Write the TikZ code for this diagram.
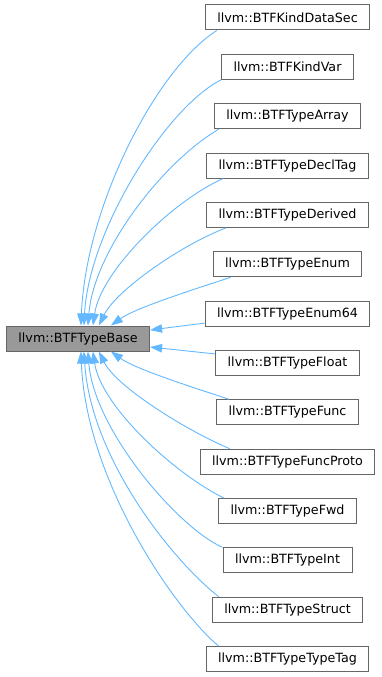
\documentclass[tikz,border=0pt]{standalone}
\usepackage{fontspec}
\setmainfont{DejaVu Sans}
\usetikzlibrary{arrows.meta,calc}

\definecolor{edgeblue}{HTML}{63B8FF}
\definecolor{boxline}{HTML}{666666}
\definecolor{basefill}{HTML}{999999}

\tikzset{
  classbox/.style={draw=boxline, line width=1pt, fill=white, text=black,
    minimum height=25pt, inner xsep=12pt, inner ysep=0pt,
    font=\fontsize{12.7}{15}\selectfont},
  basebox/.style={classbox, fill=basefill},
  inherit/.style={draw=edgeblue, line width=0.9pt,
    -{Triangle[length=12pt,width=8.5pt]}, fill=none},
}

\begin{document}
\begin{tikzpicture}[x=1pt,y=-1pt]
\useasboundingbox (0,0) rectangle (381,677);

% base class
\node[basebox] (base) at (78,338.5) {llvm::BTFTypeBase};

% derived classes
\node[classbox] (c1)  at (287.5, 17.5) {llvm::BTFKindDataSec};
\node[classbox] (c2)  at (287.5, 66.85) {llvm::BTFKindVar};
\node[classbox] (c3)  at (287.5,116.2) {llvm::BTFTypeArray};
\node[classbox] (c4)  at (287.5,165.55) {llvm::BTFTypeDeclTag};
\node[classbox] (c5)  at (287.5,214.9) {llvm::BTFTypeDerived};
\node[classbox] (c6)  at (287.5,264.25) {llvm::BTFTypeEnum};
\node[classbox] (c7)  at (287.5,313.6) {llvm::BTFTypeEnum64};
\node[classbox] (c8)  at (287.5,362.95) {llvm::BTFTypeFloat};
\node[classbox] (c9)  at (287.5,412.3) {llvm::BTFTypeFunc};
\node[classbox] (c10) at (287.5,461.65) {llvm::BTFTypeFuncProto};
\node[classbox] (c11) at (287.5,511) {llvm::BTFTypeFwd};
\node[classbox] (c12) at (287.5,560.35) {llvm::BTFTypeInt};
\node[classbox] (c13) at (287.5,609.7) {llvm::BTFTypeStruct};
\node[classbox] (c14) at (287.5,659.05) {llvm::BTFTypeTypeTag};

% inheritance edges into the top of the base box
\draw[inherit] ($(c1.south west)+(12,0)$) .. controls +(-60,38) and +(5,-120) .. ($(base.north west)+(75,0)$);
\draw[inherit] ($(c2.south west)+(0,0)$) .. controls +(-55,28) and +(5,-95) .. ($(base.north west)+(78,0)$);
\draw[inherit] ($(c3.south west)+(5,0)$) .. controls +(-55,32) and +(6,-75) .. ($(base.north west)+(82,0)$);
\draw[inherit] ($(c4.south west)+(17,0)$) .. controls +(-50,22) and +(8,-55) .. ($(base.north west)+(87,0)$);
\draw[inherit] ($(c5.south west)+(20,0)$) .. controls +(-45,17) and +(17,-35) .. ($(base.north west)+(93,0)$);
\draw[inherit] ($(c6.south west)+(18,0)$) .. controls +(-30,10) and +(25,-18) .. ($(base.north west)+(105,0)$);

% edges into the right side of the base box
\draw[inherit] ($(c7.west)+(0,9.5)$) -- ($(base.east)+(0,-8.5)$);
\draw[inherit] ($(c8.north west)+(0,4)$) -- ($(base.east)+(0,8.5)$);

% edges into the bottom of the base box
\draw[inherit] ($(c9.north west)+(13,0)$) .. controls +(-30,-10) and +(25,18) .. ($(base.south west)+(105,0)$);
\draw[inherit] ($(c10.north west)+(30,0)$) .. controls +(-43,-18) and +(17,35) .. ($(base.south west)+(93,0)$);
\draw[inherit] ($(c11.north west)+(6,0)$) .. controls +(-48,-23) and +(8,55) .. ($(base.south west)+(87,0)$);
\draw[inherit] ($(c12.north west)+(0,0)$) .. controls +(-45,-20) and +(6,78) .. ($(base.south west)+(82,0)$);
\draw[inherit] ($(c13.north west)+(7,0)$) .. controls +(-45,-35) and +(7,108) .. ($(base.south west)+(78,0)$);
\draw[inherit] ($(c14.north west)+(13,0)$) .. controls +(-45,-38) and +(5,128) .. ($(base.south west)+(75,0)$);
\end{tikzpicture}
\end{document}
